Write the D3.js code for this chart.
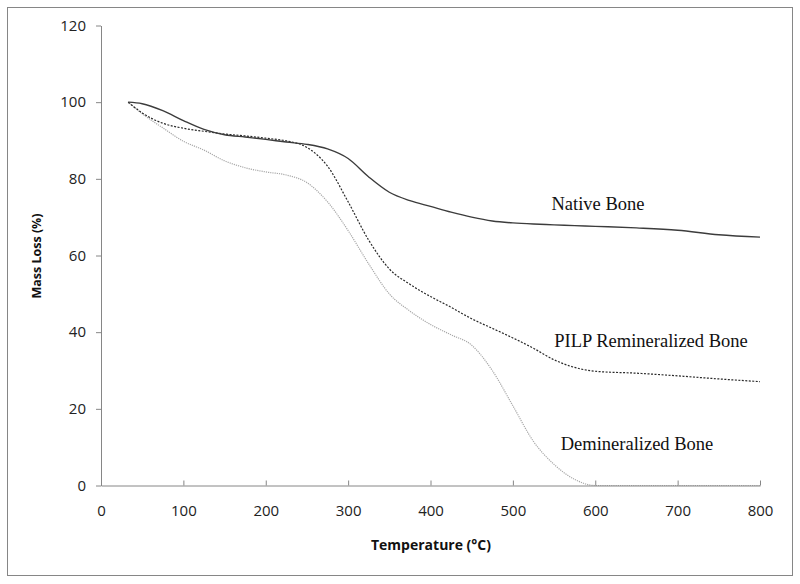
<!DOCTYPE html>
<html><head><meta charset="utf-8">
<script src="https://cdn.jsdelivr.net/npm/d3@7"></script>
<style>body{margin:0;background:#fff}</style>
</head><body>
<svg id="c" width="800" height="584"></svg>
<script>
const temperature = [33,50,75,100,125,150,175,200,225,250,275,300,325,350,375,400,425,450,475,500,525,550,575,600,650,700,750,800];
const nativeBone = [100,99.6,97.8,95.2,92.9,91.5,90.9,90.3,89.6,89.0,87.8,85.3,80.5,76.5,74.3,72.8,71.3,70.0,69.0,68.5,68.2,68.0,67.8,67.6,67.2,66.6,65.4,64.8];
const pilpBone = [100,97.2,94.5,93.2,92.4,91.7,91.2,90.6,89.9,88.2,83.3,74.0,64.0,56.5,52.5,49.3,46.5,43.5,41.0,38.5,35.8,32.8,30.8,29.8,29.3,28.6,27.8,27.1];
const deminBone = [100,97.0,93.3,89.8,87.5,84.7,82.9,81.8,81.0,79.0,74.0,66.5,57.8,50.0,45.5,42.0,39.3,36.6,30.0,20.8,11.5,5.5,1.6,0,0,0,0,0];
const seriesNames = ["Native Bone","PILP Remineralized Bone","Demineralized Bone"];
const xTicks = [0,100,200,300,400,500,600,700,800];
const yTicks = [0,20,40,60,80,100,120];

const svg = d3.select("#c");
const axisColor = "#868686";
svg.append("rect").attr("x",7.5).attr("y",7.5).attr("width",785).attr("height",568)
  .attr("fill","#fff").attr("stroke",axisColor).attr("stroke-width",1);

const x = d3.scaleLinear().domain([0,800]).range([101,760]);
const y = d3.scaleLinear().domain([0,120]).range([485.5,25.5]);

const line = vals => d3.line().x((d,i)=>x(temperature[i])).y(d=>y(d)).curve(d3.curveMonotoneX)(vals);

svg.append("path").attr("d",line(deminBone)).attr("fill","none").attr("stroke","#a8a8a8").attr("stroke-width",1.2).attr("stroke-dasharray","1.2,1");

// x axis with inward ticks
const xa = svg.append("g").attr("transform","translate(0,485.5)")
  .call(d3.axisBottom(x).tickValues(xTicks).tickSizeInner(-5).tickSizeOuter(0).tickPadding(20));
xa.select(".domain").attr("stroke",axisColor);
xa.selectAll(".tick line").attr("stroke",axisColor);
xa.selectAll(".tick text").attr("font-family","'Open Sans', sans-serif").attr("font-size",15).attr("fill","#222");

const ya = svg.append("g").attr("transform","translate(101,0)")
  .call(d3.axisLeft(y).tickValues(yTicks).tickSize(5).tickSizeOuter(0).tickPadding(10));
ya.select(".domain").attr("stroke",axisColor);
ya.selectAll(".tick line").attr("stroke",axisColor);
ya.selectAll(".tick text").attr("font-family","'Open Sans', sans-serif").attr("font-size",15).attr("fill","#222");

svg.append("path").attr("d",line(pilpBone)).attr("fill","none").attr("stroke","#2a2a2a").attr("stroke-width",1.2).attr("stroke-dasharray","2,1.5");
svg.append("path").attr("d",line(nativeBone)).attr("fill","none").attr("stroke","#3c3c3c").attr("stroke-width",1.4);

const lab = [[598,210],[651,347],[637,450]];
seriesNames.forEach((n,i)=>{
  svg.append("text").attr("x",lab[i][0]).attr("y",lab[i][1]).attr("text-anchor","middle")
    .attr("font-family","'Liberation Serif', 'Times New Roman', serif").attr("font-size",18.5).attr("fill","#111").text(n);
});

svg.append("text").attr("x",431).attr("y",550).attr("text-anchor","middle")
  .attr("font-family","'Open Sans', sans-serif").attr("font-weight","bold").attr("font-size",14).attr("fill","#111").text("Temperature (°C)");
svg.append("text").attr("transform","translate(41,256) rotate(-90)").attr("text-anchor","middle")
  .attr("font-family","'Open Sans', sans-serif").attr("font-weight","bold").attr("font-size",12.5).attr("fill","#111").text("Mass Loss (%)");
</script>
</body></html>
